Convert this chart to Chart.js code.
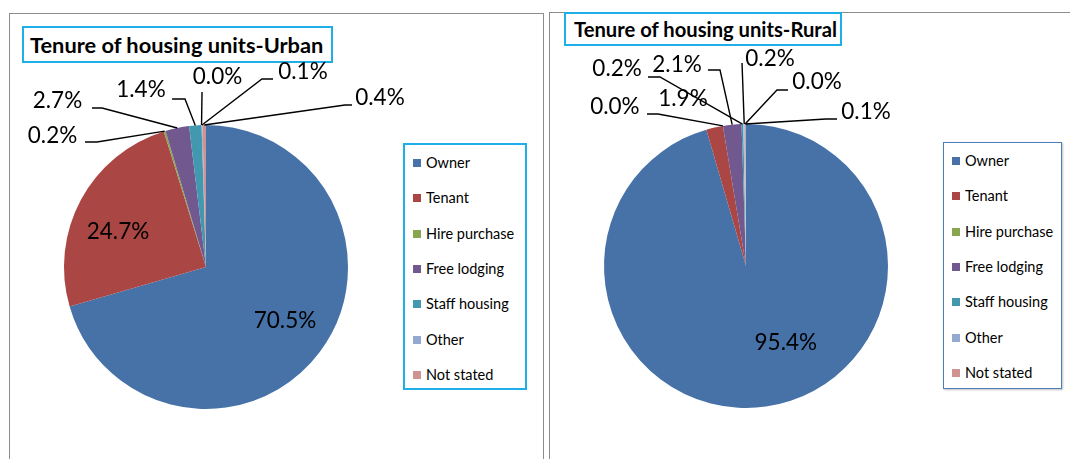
<!DOCTYPE html>
<html>
<head>
<meta charset="utf-8">
<script src="https://cdn.jsdelivr.net/npm/chart.js@4/dist/chart.umd.min.js"></script>
<style>
  html, body { margin: 0; padding: 0; background: #fff; width: 1070px; height: 459px; overflow: hidden; }
  .panel { position: absolute; border: 1.5px solid #8c8c8c; box-sizing: border-box; background: #fff; }
  .wrap { position: absolute; }
  .title { position: absolute; box-sizing: border-box; border: 2px solid #1eaee8; background: #fff;
           font-family: Lato, sans-serif; font-weight: bold; color: #000; white-space: nowrap; z-index: 3; }
  .legend { position: absolute; box-sizing: border-box; background: #fff; z-index: 3;
            font-family: Lato, sans-serif; color: #000; }
  .legend .item { position: absolute; white-space: nowrap; line-height: 1; }
  .legend .sw { position: absolute; width: 8px; height: 8px; }
</style>
</head>
<body>
<div class="panel" style="left:9px;top:13px;width:535px;height:470px;"></div>
<div class="panel" style="left:549px;top:12px;width:540px;height:470px;"></div>

<div class="title" id="titleUrban" style="left:22px;top:26px;width:311px;height:37px;font-size:21.8px;line-height:33px;padding-left:6px;"></div>
<div class="title" id="titleRural" style="left:564px;top:12px;width:278px;height:34px;font-size:20.2px;line-height:30px;padding-left:8px;"></div>

<div class="legend" id="legendUrban" style="left:403px;top:143px;width:124px;height:247px;border:2px solid #1eaee8;"></div>
<div class="legend" id="legendRural" style="left:943px;top:142px;width:119px;height:247px;border:1.5px solid #4a7ebb;box-shadow:1px 1px 2px rgba(0,0,0,0.25);"></div>

<div class="wrap" style="left:10px;top:14px;width:533px;height:445px;z-index:4;"><canvas id="urban"></canvas></div>
<div class="wrap" style="left:550px;top:13px;width:520px;height:446px;z-index:4;"><canvas id="rural"></canvas></div>

<script>
// ---- data ----
const categories = ['Owner', 'Tenant', 'Hire purchase', 'Free lodging', 'Staff housing', 'Unlabelled', 'Other', 'Not stated'];
const legendHidden = ['Unlabelled'];
const urbanValues = [70.5, 24.7, 0.2, 2.7, 1.4, 0.0, 0.1, 0.4];
const ruralValues = [95.4, 1.9, 0.0, 2.1, 0.2, 0.2, 0.0, 0.1];
const sliceColors = ['#4672A8', '#AA4643', '#89A54E', '#71588F', '#4198AF', '#A7C4E0', '#93A9CF', '#D19392'];
const chartTitles = ['Tenure of housing units-Urban', 'Tenure of housing units-Rural'];

// ---- label layout (in units of pie radius, relative to pie centre) ----
const urbanCallouts = [
  { inside: 0.674, rot: -2.5 },
  { inside: 0.667, rot: -6.6 },
  { text: [-1.081, -0.873], start: [-0.852, -0.880], elbow: [-0.768, -0.880] },
  { text: [-1.046, -1.120], start: [-0.803, -1.120], elbow: [-0.732, -1.120] },
  { text: [-0.458, -1.197], start: [-0.239, -1.183], elbow: [-0.148, -1.183] },
  { text: [0.081, -1.289],  start: [-0.028, -1.232], elbow: [-0.028, -1.232] },
  { text: [0.683, -1.324],  start: [0.472, -1.324],  elbow: [0.394, -1.324] },
  { text: [1.225, -1.141],  start: [1.028, -1.141],  elbow: [0.979, -1.141] }
];
const ruralCallouts = [
  { inside: 0.611, rot: -19.2 },
  { text: [-0.444, -1.127] },
  { text: [-0.923, -1.070], start: [-0.697, -1.070], elbow: [-0.620, -1.070] },
  { text: [-0.486, -1.366], start: [-0.268, -1.380], elbow: [-0.183, -1.380] },
  { text: [-0.908, -1.338], start: [-0.690, -1.331], elbow: [-0.606, -1.331] },
  { text: [0.169, -1.408],  start: [-0.028, -1.430], elbow: [-0.028, -1.430] },
  { text: [0.500, -1.246],  start: [0.296, -1.239],  elbow: [0.218, -1.239] },
  { text: [0.845, -1.035],  start: [0.641, -1.035],  elbow: [0.563, -1.035] }
];

const calloutPlugin = {
  id: 'callouts',
  afterDatasetsDraw(chart, args, opts) {
    const meta = chart.getDatasetMeta(0);
    const ctx = chart.ctx;
    const values = chart.data.datasets[0].data;
    ctx.save();
    ctx.font = '22.5px Lato, sans-serif';
    ctx.fillStyle = '#000';
    ctx.strokeStyle = '#000';
    ctx.lineWidth = 1.4;
    meta.data.forEach((arc, i) => {
      const cfg = opts.items[i];
      if (!cfg) return;
      const p = arc.getProps(['x', 'y', 'startAngle', 'endAngle', 'outerRadius'], true);
      const r = p.outerRadius, cx = p.x, cy = p.y;
      const mid = (p.startAngle + p.endAngle) / 2;
      const label = values[i].toFixed(1) + '%';
      if (cfg.inside) {
        const a = mid + (cfg.rot || 0) * Math.PI / 180;
        ctx.textAlign = 'center';
        ctx.textBaseline = 'middle';
        ctx.fillText(label, cx + Math.cos(a) * r * cfg.inside, cy + Math.sin(a) * r * cfg.inside);
        return;
      }
      if (cfg.start) {
        const ex = cx + Math.cos(mid) * r, ey = cy + Math.sin(mid) * r;
        ctx.beginPath();
        ctx.moveTo(cx + cfg.start[0] * r, cy + cfg.start[1] * r);
        ctx.lineTo(cx + cfg.elbow[0] * r, cy + cfg.elbow[1] * r);
        ctx.lineTo(ex, ey);
        ctx.stroke();
      }
      ctx.textAlign = 'center';
      ctx.textBaseline = 'alphabetic';
      ctx.fillText(label, cx + cfg.text[0] * r, cy + cfg.text[1] * r);
    });
    ctx.restore();
  }
};

function makePie(id, values, padding, callouts) {
  return new Chart(document.getElementById(id), {
    type: 'pie',
    data: {
      labels: categories,
      datasets: [{ data: values, backgroundColor: sliceColors, borderWidth: 0, hoverOffset: 0 }]
    },
    options: {
      responsive: true,
      maintainAspectRatio: false,
      animation: false,
      layout: { padding: padding },
      plugins: {
        legend: { display: false },
        title: { display: false },
        tooltip: { enabled: false },
        callouts: { items: callouts }
      }
    },
    plugins: [calloutPlugin]
  });
}

makePie('urban', urbanValues, { left: 54, top: 111, right: 195, bottom: 50 }, urbanCallouts);
makePie('rural', ruralValues, { left: 54, top: 111, right: 182, bottom: 51 }, ruralCallouts);

document.getElementById('titleUrban').textContent = chartTitles[0];
document.getElementById('titleRural').textContent = chartTitles[1];

function buildLegend(id) {
  const box = document.getElementById(id);
  let row = 0;
  categories.forEach((name, i) => {
    if (legendHidden.includes(name)) return;
    const y = 11 + row * 35.3;
    const sw = document.createElement('div');
    sw.className = 'sw';
    sw.style.left = '8px';
    sw.style.top = (y + 3) + 'px';
    sw.style.background = sliceColors[i];
    box.appendChild(sw);
    const t = document.createElement('div');
    t.className = 'item';
    t.style.left = '21px';
    t.style.top = y + 'px';
    t.style.fontSize = '14.5px';
    t.textContent = name;
    box.appendChild(t);
    row++;
  });
}
buildLegend('legendUrban');
buildLegend('legendRural');
</script>
</body>
</html>
